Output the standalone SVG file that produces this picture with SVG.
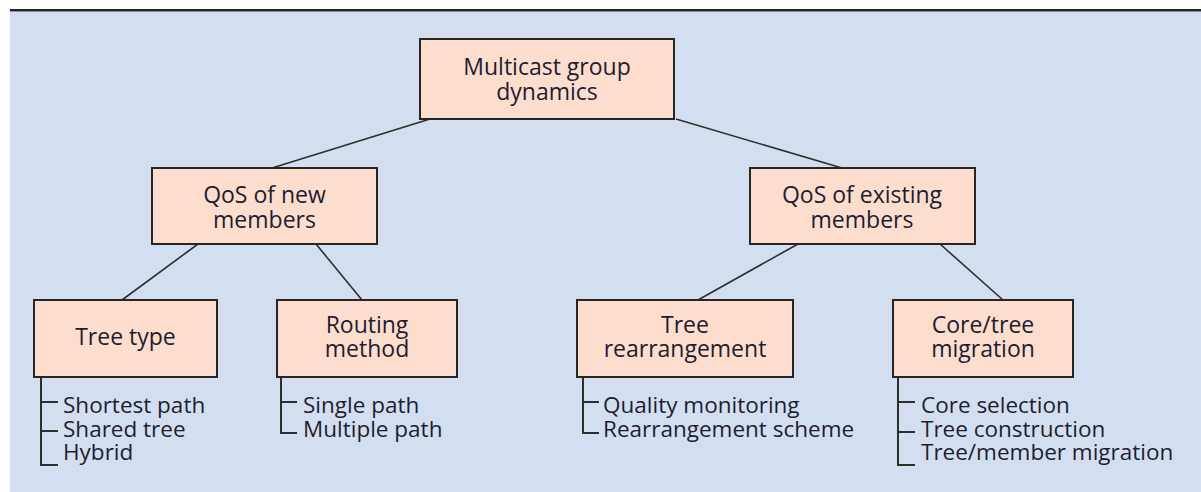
<svg xmlns="http://www.w3.org/2000/svg" width="1201" height="492" viewBox="0 0 1201 492">
<style>
.box{fill:#FCDDCE;stroke:#262626;stroke-width:2}
.t{font-family:"Open Sans","Noto Sans",sans-serif;font-size:23px;fill:#1e1e30;text-anchor:middle}
.l{font-family:"Open Sans","Noto Sans",sans-serif;font-size:22.5px;fill:#1e1e30}
.c{stroke:#2e2e2e;stroke-width:1.6;fill:none}
.b{stroke:#2e2e2e;stroke-width:2;fill:none}
</style>
<rect x="0" y="0" width="1201" height="492" fill="#ffffff"/>
<rect x="10" y="11" width="1191" height="481" fill="#D3DEF0"/>
<line x1="10" y1="10" x2="1201" y2="10" stroke="#222" stroke-width="2"/>
<line x1="10" y1="11.5" x2="1201" y2="11.5" stroke="#8a8f99" stroke-width="1"/>
<g id="connectors">
<line class="c" x1="430" y1="119" x2="272" y2="168"/>
<line class="c" x1="676" y1="119" x2="842" y2="168"/>
<line class="c" x1="198" y1="244" x2="122" y2="300"/>
<line class="c" x1="316" y1="244" x2="362" y2="300"/>
<line class="c" x1="798" y1="244" x2="698" y2="300"/>
<line class="c" x1="940" y1="244" x2="1003" y2="300"/>
<path class="b" d="M41 377V465H58M41 402H58M41 431H58"/>
<path class="b" d="M281 377V433H297M281 402H297"/>
<path class="b" d="M583 377V433H599M583 402H599"/>
<path class="b" d="M898 377V465H915M898 402H915M898 432H915"/>
</g>
<g id="root">
<rect class="box" x="420" y="39" width="254" height="80"/>
<text class="t" x="547" y="75">Multicast group</text>
<text class="t" x="547" y="100">dynamics</text>
</g>
<g id="qos-new">
<rect class="box" x="152" y="168" width="225" height="76"/>
<text class="t" x="264.5" y="203">QoS of new</text>
<text class="t" x="264.5" y="228">members</text>
</g>
<g id="qos-existing">
<rect class="box" x="750" y="168" width="225" height="76"/>
<text class="t" x="862" y="203">QoS of existing</text>
<text class="t" x="862" y="228">members</text>
</g>
<g id="tree-type">
<rect class="box" x="34" y="300" width="183" height="77"/>
<text class="t" x="125.5" y="345">Tree type</text>
<text class="l" x="63" y="413">Shortest path</text>
<text class="l" x="63" y="437">Shared tree</text>
<text class="l" x="63" y="460">Hybrid</text>
</g>
<g id="routing-method">
<rect class="box" x="277" y="300" width="180" height="77"/>
<text class="t" x="367" y="333">Routing</text>
<text class="t" x="367" y="357">method</text>
<text class="l" x="303" y="413">Single path</text>
<text class="l" x="303" y="437">Multiple path</text>
</g>
<g id="tree-rearrangement">
<rect class="box" x="577" y="300" width="216" height="77"/>
<text class="t" x="685" y="333">Tree</text>
<text class="t" x="685" y="357">rearrangement</text>
<text class="l" x="603" y="413">Quality monitoring</text>
<text class="l" x="603" y="437">Rearrangement scheme</text>
</g>
<g id="core-tree-migration">
<rect class="box" x="893" y="300" width="180" height="77"/>
<text class="t" x="983" y="333">Core/tree</text>
<text class="t" x="983" y="357">migration</text>
<text class="l" x="921" y="413">Core selection</text>
<text class="l" x="921" y="437">Tree construction</text>
<text class="l" x="921" y="460">Tree/member migration</text>
</g>
</svg>
